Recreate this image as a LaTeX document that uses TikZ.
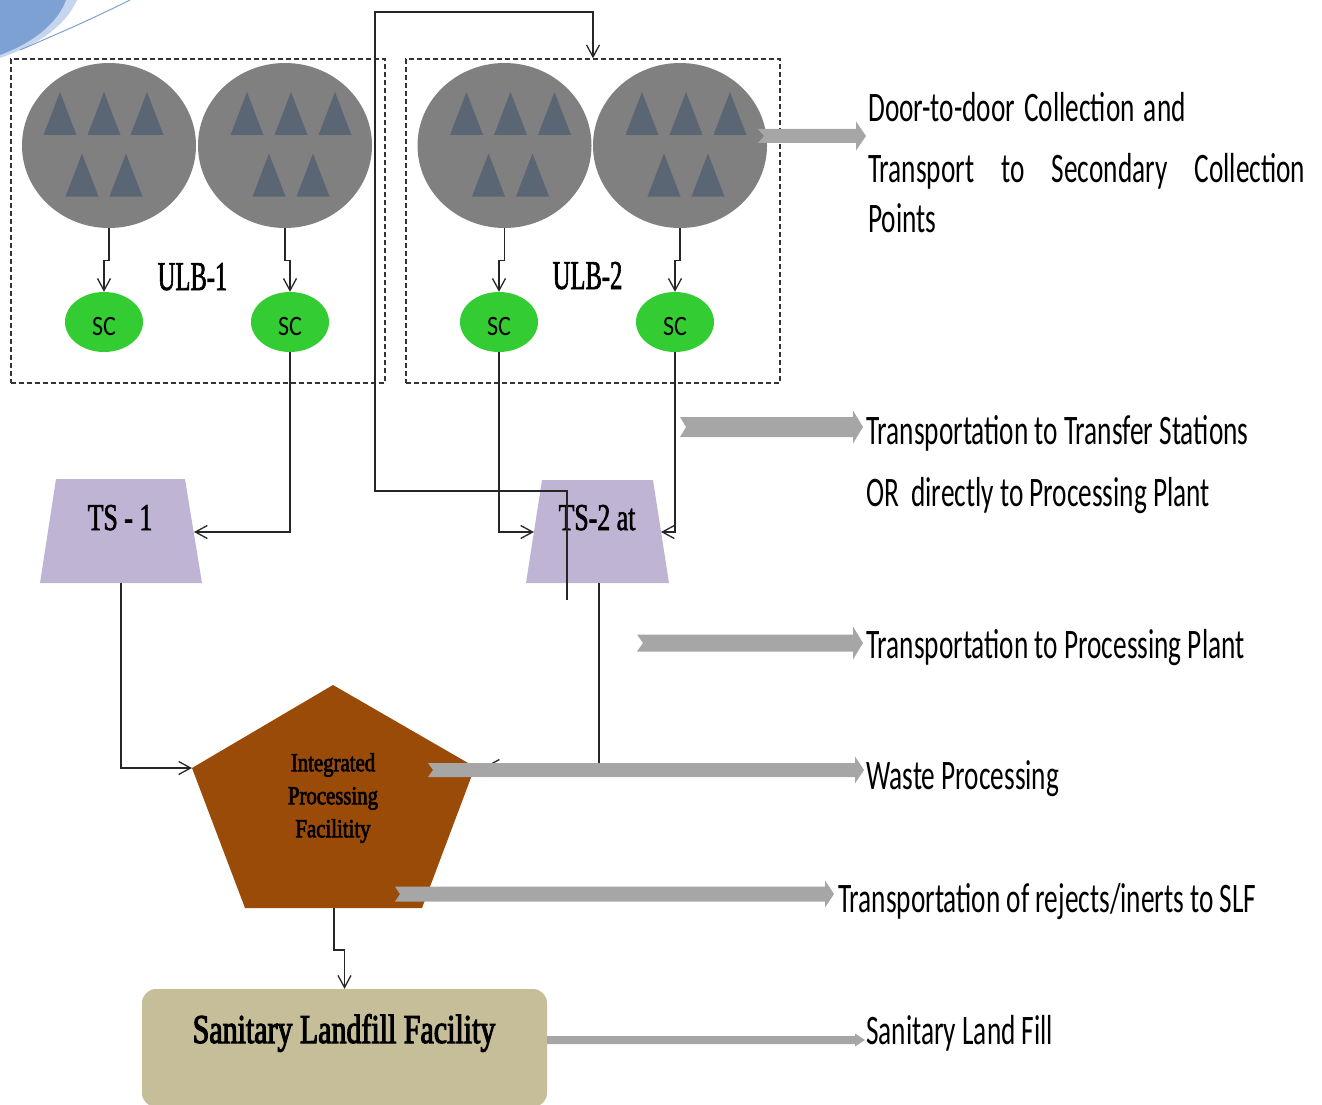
\documentclass[tikz,border=0pt]{standalone}
\usepackage{fontspec}
\usetikzlibrary{arrows.meta,shapes.geometric}
\newfontfamily\lblfont[FakeStretch=0.65]{Carlito}
\newfontfamily\scfont[FakeStretch=0.86]{Carlito}
\newfontfamily\ulbfont[FakeStretch=0.6,FakeBold=1.5]{Liberation Serif}
\newfontfamily\tsfont[FakeStretch=0.68,FakeBold=1.5]{Liberation Serif}
\newfontfamily\ipffont[FakeStretch=0.8,FakeBold=2.5]{Liberation Serif}
\newfontfamily\slffont[FakeStretch=0.73,FakeBold=2.5]{Liberation Serif}
\definecolor{blobgray}{HTML}{808080}
\definecolor{trigray}{HTML}{5B6675}
\definecolor{scgreen}{HTML}{33CC33}
\definecolor{tslav}{HTML}{C0B4D4}
\definecolor{ipfbrown}{HTML}{9A4B08}
\definecolor{slftan}{HTML}{C5BE98}
\definecolor{arrgray}{HTML}{A6A6A6}
\definecolor{cornerblue}{HTML}{7EA1D3}
\definecolor{cornerlight}{HTML}{C6D5EE}
% tail x, tip x, y, bar half, head half, head length, notch depth
\newcommand{\blockarr}[7]{%
  \fill[arrgray] (#1,#3-#4) -- (#2-#6,#3-#4) -- (#2-#6,#3-#5) -- (#2,#3)
    -- (#2-#6,#3+#5) -- (#2-#6,#3+#4) -- (#1,#3+#4) -- (#1+#7,#3) -- cycle;}
\newcommand{\sctext}{\raisebox{-4pt}[18pt][0pt]{SC}}
\tikzset{
  blob/.style={ellipse, fill=blobgray, minimum width=174pt, minimum height=165pt, inner sep=0pt},
  scnode/.style={ellipse, fill=scgreen, minimum width=78pt, minimum height=60pt, inner sep=0pt,
    font=\scfont\fontsize{28}{30}\selectfont},
  dbox/.style={draw=black!80, line width=1.5pt, dash pattern=on 5pt off 3pt,
    minimum width=374pt, minimum height=324pt, inner sep=0pt},
  tsfill/.style={fill=tslav},
  conn/.style={draw=black!85, line width=1.3pt, -{Straight Barb[length=12pt,width=13pt]}},
  lbl/.style={anchor=base west, inner sep=0pt, font=\lblfont\fontsize{42}{48}\selectfont},
  tri/.pic={\fill[trigray] (-16.5,21.5) -- (0,-21.5) -- (16.5,21.5) -- cycle;}
}
\begin{document}
\begin{tikzpicture}[x=1pt,y=-1pt]
\useasboundingbox (0,0) rectangle (1322,1105);
\clip (0,0) rectangle (1322,1105);
% corner decoration
\fill[cornerlight] (0,0) -- (77,0) .. controls (66,25) and (40,44) .. (0,58) -- cycle;
\fill[cornerblue] (0,0) -- (66,0) .. controls (58,22) and (35,42) .. (0,55) -- cycle;
\draw[cornerblue, line width=1pt] (130,0) .. controls (90,20) and (55,35) .. (20,50);
% dashed ULB boxes
\node[dbox] (box1) at (198,221) {};
\node[dbox] (box2) at (593,221) {};
% households
\node[blob] (c1) at (109,145.5) {};
\node[blob] (c2) at (285,145.5) {};
\node[blob] (c3) at (504.5,145.5) {};
\node[blob] (c4) at (680,145.5) {};
\foreach \dx in {-49,-5,38} \path (c1) ++(\dx,-32) pic {tri};
\foreach \dx in {-27,17} \path (c1) ++(\dx,29.5) pic {tri};
\foreach \cc in {c2,c3,c4}{
  \foreach \dx in {-38,6,50} \path (\cc) ++(\dx,-32) pic {tri};
  \foreach \dx in {-16,28} \path (\cc) ++(\dx,29.5) pic {tri};
}
% secondary collection points
\node[scnode] (sc1) at (104,322) {\sctext};
\node[scnode] (sc2) at (290,322) {\sctext};
\node[scnode] (sc3) at (499,322) {\sctext};
\node[scnode] (sc4) at (675,322) {\sctext};
\draw[conn] (c1.south) -- ++(0,32) -| (sc1.north);
\draw[conn] (c2.south) -- ++(0,32) -| (sc2.north);
\draw[conn] (c3.south) -- ++(0,32) -| (sc3.north);
\draw[conn] (c4.south) -- ++(0,32) -| (sc4.north);
\node[anchor=base, inner sep=0pt, font=\ulbfont\fontsize{41}{44}\selectfont] (ulb1) at (192.5,290) {ULB-1};
\node[anchor=base, inner sep=0pt, font=\ulbfont\fontsize{41}{44}\selectfont] (ulb2) at (587.5,289) {ULB-2};
% transfer stations
\fill[tsfill] (56,479) -- (185,479) -- (202,583) -- (40,583) -- cycle;
\fill[tsfill] (542,480) -- (653,480) -- (669,583) -- (526,583) -- cycle;
\coordinate (ts1e) at (194,532);
\coordinate (ts1s) at (121,583);
\coordinate (ts2w) at (534,532);
\coordinate (ts2e) at (661,532);
\coordinate (ts2s) at (599,583);
\node[anchor=base, inner sep=0pt, font=\tsfont\fontsize{38}{40}\selectfont] (ts1) at (120,530) {TS - 1};
\node[anchor=base, inner sep=0pt, font=\tsfont\fontsize{38}{40}\selectfont] (ts2) at (597,530) {TS-2 at};
\draw[conn] (sc2.south) |- (ts1e);
\draw[conn] (sc3.south) |- (ts2w);
\draw[conn] (sc4.south) |- (ts2e);
\coordinate (loopstart) at (567,600);
\draw[conn] (loopstart) -- (567,491) -- (375,491) -- (375,12) -- (593,12) -- (box2.north);
% integrated processing facility
\coordinate (pT) at (333,685);
\coordinate (pL) at (192,768);
\coordinate (pR) at (475,767);
\coordinate (pBL) at (245,908);
\coordinate (pBR) at (422,908);
\coordinate (pBot) at (334,908);
\coordinate (pRin) at (486,766);
\fill[ipfbrown] (pT) -- (pR) -- (pBR) -- (pBL) -- (pL) -- cycle;
\node[align=center, inner sep=0pt, font=\ipffont\fontsize{26}{33}\selectfont] (ipf) at (333,798) {Integrated\\Processing\\Facilitity};
% sanitary landfill
\node[fill=slftan, rounded corners=14pt, minimum width=405pt, minimum height=118pt, inner sep=0pt] (slf) at (344.5,1048) {};
\node[anchor=base, inner sep=0pt, font=\slffont\fontsize{41}{44}\selectfont] (slflbl) at (344,1043) {Sanitary Landfill Facility};
\draw[conn] (ts1s) |- (pL);
\draw[conn] (ts2s) |- (pRin);
\draw[conn] (pBot) -- ++(0,42) -| (slf.north);
% gray block arrows
\blockarr{758}{866}{136}{7}{14.5}{10}{6}
\blockarr{680}{863}{427}{10}{16.5}{10}{6}
\blockarr{637}{863}{643}{8.5}{16.5}{10}{6}
\blockarr{428}{864}{770}{7}{13.5}{9}{5}
\blockarr{395}{834}{894}{7.5}{13.5}{9}{5}
\blockarr{547}{865}{1040}{4}{6.5}{10}{0}
% labels
\node[lbl] (l1a) at (868,122) {Door-to-door\hspace{3pt} Collection\hspace{3pt} and};
\node[lbl] (l1b) at (868,182) {\makebox[437pt][s]{Transport to Secondary Collection}};
\node[lbl] (l1c) at (868,232) {Points};
\node[lbl] (l2a) at (866,444) {Transportation to Transfer Stations};
\node[lbl] (l2b) at (866,506) {OR\hspace{6pt} directly to Processing Plant};
\node[lbl] (l3) at (866,658) {Transportation to Processing Plant};
\node[lbl] (l4) at (866,789) {Waste Processing};
\node[lbl] (l5) at (838,912) {Transportation of rejects/inerts to SLF};
\node[lbl] (l6) at (866,1044) {Sanitary Land Fill};
\end{tikzpicture}
\end{document}
